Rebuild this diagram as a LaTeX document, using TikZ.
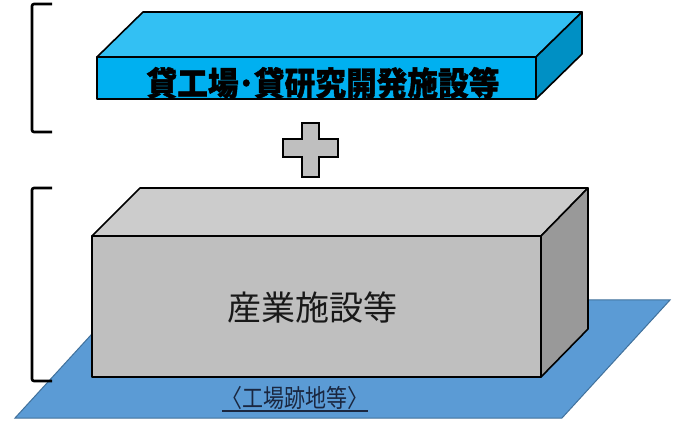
\documentclass[tikz,border=0pt]{standalone}
\usepackage{fontspec}
\newfontfamily\cjk{Noto Sans CJK JP}
\newfontfamily\cjkh[BoldFeatures={FakeBold=1.2}]{Noto Sans CJK JP}
\usetikzlibrary{calc}
\definecolor{bluefront}{HTML}{00B0F0}
\definecolor{bluetop}{HTML}{33C0F3}
\definecolor{blueside}{HTML}{0090C4}
\definecolor{grayfront}{HTML}{BFBFBF}
\definecolor{graytop}{HTML}{CCCCCC}
\definecolor{grayside}{HTML}{999999}
\definecolor{plane}{HTML}{5B9BD5}
\definecolor{planeedge}{HTML}{41719C}
\definecolor{navy}{HTML}{1A2740}
\tikzset{
  face/.style={draw=black, line width=1.6pt, line join=round},
  bracket/.style={draw=black, line width=2.6pt, rounded corners=2pt},
}
\begin{document}
\begin{tikzpicture}[x=1pt,y=-1pt]
\useasboundingbox (0,0) rectangle (682,427);
% ground plane
\draw[fill=plane, draw=planeedge, line width=1pt] (15,418) -- (562,418) -- (670,300) -- (123,300) -- cycle;
% bottom box
\coordinate (b1) at (92,236);
\coordinate (b2) at (541,236);
\coordinate (b3) at (541,377);
\coordinate (b4) at (92,377);
\coordinate (b5) at (140,188);
\coordinate (b6) at (588,188);
\coordinate (b7) at (588,329);
\draw[face, fill=graytop] (b1) -- (b5) -- (b6) -- (b2) -- cycle;
\draw[face, fill=grayside] (b2) -- (b6) -- (b7) -- (b3) -- cycle;
\draw[face, fill=grayfront] (b1) -- (b2) -- (b3) -- (b4) -- cycle;
\node[font=\cjk\fontsize{34}{34}\selectfont, text=black!90] (ind) at (312,308) {産業施設等};
\node[font=\cjk\fontsize{25}{25}\selectfont, text=navy, inner sep=0pt, xscale=0.84] (site) at (295,398) {〈工場跡地等〉};
\draw[navy, line width=1.3pt] (222,411) -- (368,411);
% top box
\coordinate (t1) at (97,57);
\coordinate (t2) at (536,57);
\coordinate (t3) at (536,99);
\coordinate (t4) at (97,99);
\coordinate (t5) at (143,12);
\coordinate (t6) at (582,12);
\coordinate (t7) at (582,54);
\draw[face, fill=bluetop] (t1) -- (t5) -- (t6) -- (t2) -- cycle;
\draw[face, fill=blueside] (t2) -- (t6) -- (t7) -- (t3) -- cycle;
\draw[face, fill=bluefront] (t1) -- (t2) -- (t3) -- (t4) -- cycle;
\node[font=\cjkh\bfseries\fontsize{33}{33}\selectfont, text=black, xscale=0.93] (rent) at (323,83) {貸工場･貸研究開発施設等};
% plus sign
\draw[fill=grayfront, draw=black, line width=2.4pt, line join=miter] (302,123) -- (319,123) -- (319,139) -- (338,139) -- (338,157) -- (319,157) -- (319,177) -- (302,177) -- (302,157) -- (283,157) -- (283,139) -- (302,139) -- cycle;
% brackets
\draw[bracket] (52,4) -- (32,4) -- (32,132) -- (52,132);
\draw[bracket] (52,188) -- (32,188) -- (32,381) -- (52,381);
\end{tikzpicture}
\end{document}
